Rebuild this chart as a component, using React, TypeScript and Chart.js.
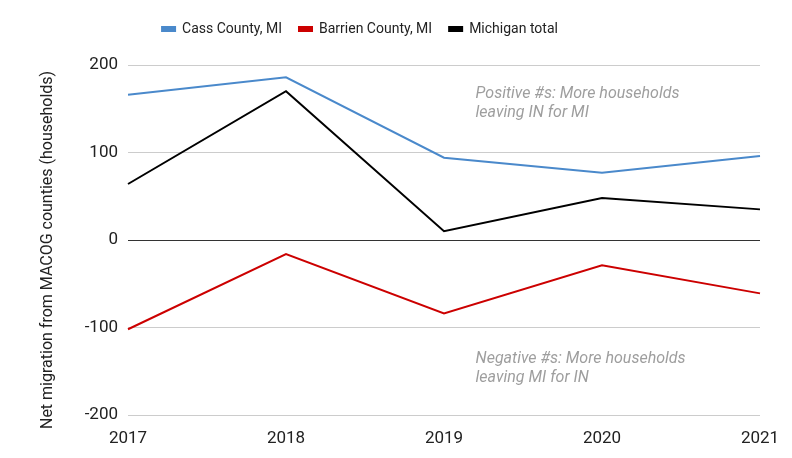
import React, { useEffect, useRef } from "react";
import { Chart, registerables } from "chart.js";

Chart.register(...registerables);

const years = ["2017", "2018", "2019", "2020", "2021"];
const cassCounty = [166, 186, 94, 77, 96];
const barrienCounty = [-102, -16, -84, -29, -61];
const michiganTotal = [64, 170, 10, 48, 35];
const yTicks = [-200, -100, 0, 100, 200];
const positiveNote = ["Positive #s: More households", "leaving IN for MI"];
const negativeNote = ["Negative #s: More households", "leaving MI for IN"];

const notesPlugin = {
  id: "notes",
  beforeLayout(chart: any) {
    const lg = chart.legend;
    if (lg && !lg._patched) {
      const orig = lg.fit.bind(lg);
      lg.fit = function () {
        orig();
        this.height += 19;
      };
      lg._patched = true;
    }
  },
  afterLayout(chart: any) {
    const lg = chart.legend;
    if (lg) {
      lg.left -= 37;
      lg.right -= 37;
    }
  },
  afterDatasetsDraw(chart: any) {
    const { ctx, scales } = chart;
    const x = scales.x.getPixelForValue(2.2);
    ctx.save();
    ctx.font = "italic 16px Roboto";
    ctx.fillStyle = "#9e9e9e";
    ctx.textAlign = "left";
    ctx.textBaseline = "middle";
    const yPos = scales.y.getPixelForValue(167);
    positiveNote.forEach((t, i) => ctx.fillText(t, x, yPos + i * 19));
    const yNeg = scales.y.getPixelForValue(-136);
    negativeNote.forEach((t, i) => ctx.fillText(t, x, yNeg + i * 19));
    ctx.restore();
  },
};

export default function App() {
  const ref = useRef<HTMLCanvasElement | null>(null);
  useEffect(() => {
    if (!ref.current) return;
    const chart = new Chart(ref.current, {
      type: "line",
      data: {
        labels: years,
        datasets: [
          { label: "Cass County, MI", data: cassCounty, borderColor: "#4a89cb", backgroundColor: "#4a89cb", borderWidth: 2, pointRadius: 0, tension: 0 },
          { label: "Barrien County, MI", data: barrienCounty, borderColor: "#cc0000", backgroundColor: "#cc0000", borderWidth: 2, pointRadius: 0, tension: 0 },
          { label: "Michigan total", data: michiganTotal, borderColor: "#000000", backgroundColor: "#000000", borderWidth: 2, pointRadius: 0, tension: 0 },
        ],
      },
      options: {
        animation: false,
        responsive: false,
        layout: { padding: { left: 34, right: 32, top: 5, bottom: 0 } },
        plugins: {
          legend: {
            position: "top",
            labels: {
              boxWidth: 13,
              boxHeight: 4,
              padding: 17,
              color: "#222222",
              font: { family: "Roboto", size: 14 },
            },
          },
          tooltip: { enabled: false },
        },
        scales: {
          x: {
            grid: { display: false },
            border: { display: false },
            ticks: { color: "#222222", font: { family: "Roboto", size: 17 }, padding: 6, maxRotation: 0 },
            afterFit(s: any) { s.height = 43; },
          },
          y: {
            min: -200,
            max: 200,
            afterBuildTicks(s: any) { s.ticks = yTicks.map((v) => ({ value: v })); },
            grid: {
              drawTicks: false,
              color: (c: any) => (c.tick && c.tick.value === 0 ? "#333333" : "#cccccc"),
              lineWidth: 1,
            },
            border: { display: false },
            ticks: { color: "#222222", font: { family: "Roboto", size: 17 }, padding: 10 },
            title: { display: true, text: "Net migration from MACOG counties (households)     ", color: "#222222", font: { family: "Roboto", size: 16 } },
            afterFit(s: any) { s.width = 94; },
          },
        },
      },
      plugins: [notesPlugin],
    });
    return () => chart.destroy();
  }, []);
  return (
    <div style={{ position: "fixed", left: 0, top: 0, width: 792, height: 458, background: "#fff" }}>
      <canvas ref={ref} width={792} height={458} />
    </div>
  );
}
